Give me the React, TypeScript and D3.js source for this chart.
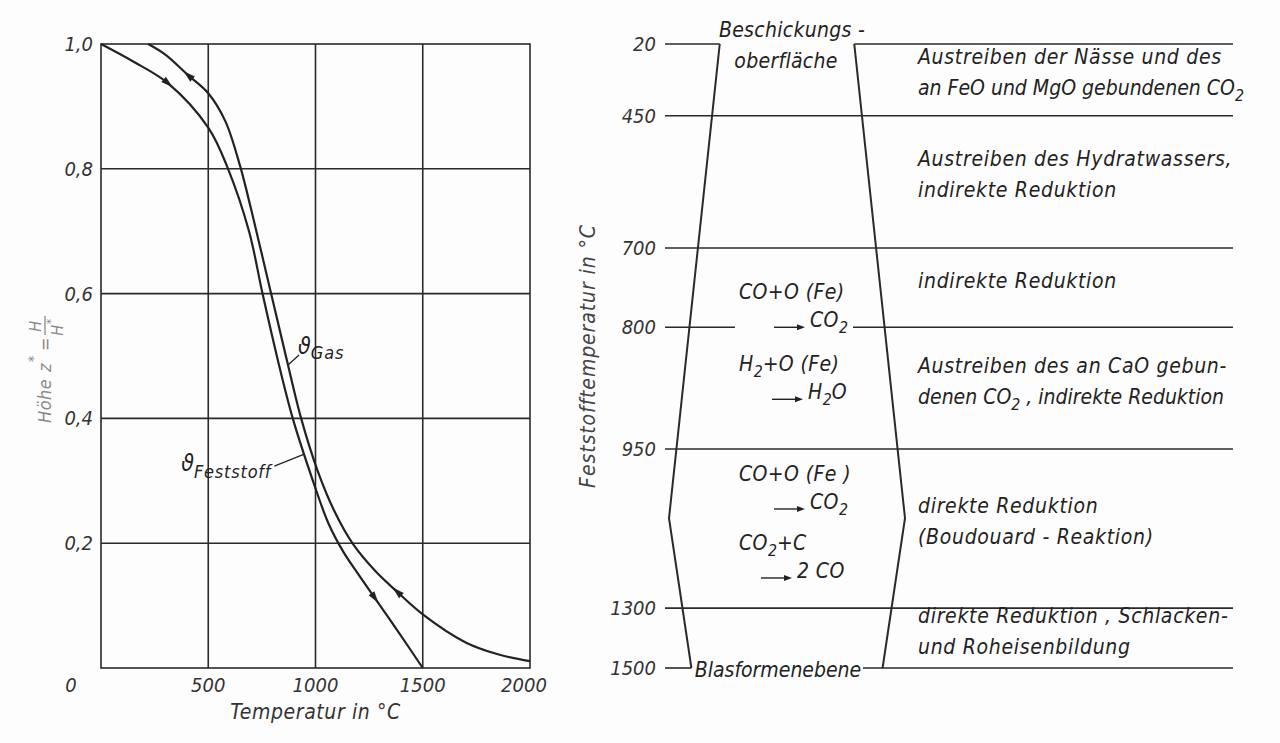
import React from "react";
import * as d3 from "d3";

const width = 1280;
const height = 743;

// left chart: height z* over temperature
const tempTicks = [500, 1000, 1500, 2000];
const heightTicks = [0.2, 0.4, 0.6, 0.8, 1.0];
const heightTickLabels = ["0,2", "0,4", "0,6", "0,8", "1,0"];

const solidT = [0, 150, 313, 500, 590, 690, 753, 824, 894, 990, 1060, 1130, 1200, 1277, 1390, 1500];
const solidZ = [1.0, 0.972, 0.937, 0.866, 0.802, 0.7, 0.6, 0.494, 0.4, 0.298, 0.232, 0.186, 0.15, 0.112, 0.056, 0.0];

const gasT = [220, 300, 406, 500, 580, 648, 700, 793, 866, 933, 1010, 1090, 1176, 1280, 1378, 1500, 1700, 1850, 2000];
const gasZ = [1.0, 0.983, 0.95, 0.921, 0.876, 0.805, 0.735, 0.6, 0.494, 0.4, 0.316, 0.25, 0.198, 0.155, 0.123, 0.086, 0.041, 0.022, 0.011];

const solidArrowT = [313, 1277];
const gasArrowT = [406, 1380];

// right chart: zones of the shaft
const levelLabels = ["20", "450", "700", "800", "950", "1300", "1500"];
const levelHeights = [1.0, 0.885, 0.673, 0.546, 0.351, 0.096, 0.0];

const shaftZ = [1.0, 0.24, 0.0];
const shaftR = [0.57, 1.0, 0.81];

const zoneTexts = [
  ["Austreiben der Nässe und des", "an FeO und MgO gebundenen CO_2"],
  ["Austreiben des Hydratwassers,", "indirekte Reduktion"],
  ["indirekte Reduktion"],
  ["Austreiben des an CaO gebun-", "denen CO_2 , indirekte Reduktion"],
  ["direkte Reduktion", "(Boudouard - Reaktion)"],
  ["direkte Reduktion , Schlacken-", "und Roheisenbildung"],
];

const educts = ["CO+O (Fe)", "H_2+O (Fe)", "CO+O (Fe )", "CO_2+C"];
const products = ["CO_2", "H_2O", "CO_2", "2 CO"];

const ink = "#222";
const font = "'DejaVu Sans Condensed', 'Liberation Sans Narrow', 'DejaVu Sans', sans-serif";

// "CO_2" -> CO with subscript 2
function chem(s: string, sub = 6) {
  const parts = s.split(/_(\d)/);
  const out: React.ReactNode[] = [];
  parts.forEach((p, i) => {
    if (i % 2 === 1) {
      out.push(<tspan key={i} fontSize="0.75em" dy={sub} letterSpacing={0}>{p}</tspan>);
    } else if (p) {
      out.push(<tspan key={i} dy={i > 0 ? -sub : 0}>{p}</tspan>);
    }
  });
  return out;
}

function Arrowhead({ x0, y0, angle }: { x0: number; y0: number; angle: number }) {
  const deg = (angle * 180) / Math.PI;
  return (
    <path
      d="M6,0 L-6,-3.5 L-6,3.5 Z"
      fill={ink}
      transform={`translate(${x0},${y0}) rotate(${deg})`}
    />
  );
}

export default function App() {
  const x = d3.scaleLinear().domain([0, 2000]).range([101, 530]);
  const y = d3.scaleLinear().domain([0, 1]).range([668, 44]);

  const solidAt = d3.scaleLinear().domain(solidT).range(solidZ);
  const gasAt = d3.scaleLinear().domain(gasT).range(gasZ);

  const curve = d3.curveCatmullRom.alpha(0.5);
  const solidLine = d3
    .line<number>()
    .x((t) => x(t))
    .y((_, i) => y(solidZ[i]))
    .curve(curve)(solidT);
  const gasLine = d3
    .line<number>()
    .x((t) => x(t))
    .y((_, i) => y(gasZ[i]))
    .curve(curve)(gasT);

  const arrow = (f: (t: number) => number, t: number, dir: number, key: string) => {
    const ax = x(t + 12) - x(t - 12);
    const ay = y(f(t + 12)) - y(f(t - 12));
    const a = Math.atan2(ay, ax) + (dir < 0 ? Math.PI : 0);
    return <Arrowhead key={key} x0={x(t)} y0={y(f(t))} angle={a} />;
  };

  // right chart geometry
  const lineStart = 665;
  const lineEnd = 1233;
  const shaftCx = 787;
  const r = d3.scaleLinear().domain([0, 1]).range([0, 118]);
  const leftWall = shaftZ.map((h, i) => [shaftCx - r(shaftR[i]), y(h)] as [number, number]);
  const rightWall = shaftZ.map((h, i) => [shaftCx + r(shaftR[i]), y(h)] as [number, number]);
  const wall = d3.line();

  const yl = (i: number) => y(levelHeights[i]);

  // gaps in level lines (text inside the shaft)
  const levelSegments = (i: number): [number, number][] => {
    if (i === 0) return [[lineStart, leftWall[0][0]], [rightWall[0][0], lineEnd]];
    if (i === 3) return [[lineStart, 735], [853, lineEnd]];
    if (i === 6) return [[lineStart, leftWall[2][0]], [863, lineEnd]];
    return [[lineStart, lineEnd]];
  };

  const pairCenters = [yl(3) - 14, yl(3) + 58, yl(4) + 46, yl(4) + 115];
  const productX = [810, 808, 810, 797];

  const gasAnchor: [number, number] = [x(872), y(gasAt(872))];
  const solidAnchor: [number, number] = [x(948), y(solidAt(948))];

  return (
    <svg
      width={width}
      height={height}
      style={{ position: "absolute", left: 0, top: 0, background: "#fdfdfd" }}
      fontFamily={font}
      fontStyle="italic"
    >
      {/* ---------- left chart ---------- */}
      <g stroke="#2a2a2a" strokeWidth={1.6} fill="none">
        <rect x={x(0)} y={y(1)} width={x(2000) - x(0)} height={y(0) - y(1)} />
        {tempTicks.slice(0, 3).map((t) => (
          <line key={t} x1={x(t)} x2={x(t)} y1={y(0)} y2={y(1)} />
        ))}
        {heightTicks.slice(0, 4).map((h) => (
          <line key={h} x1={x(0)} x2={x(2000)} y1={y(h)} y2={y(h)} />
        ))}
      </g>

      <path d={solidLine || ""} fill="none" stroke={ink} strokeWidth={2.2} />
      <path d={gasLine || ""} fill="none" stroke={ink} strokeWidth={2.2} />
      {solidArrowT.map((t, i) => arrow(solidAt, t, 1, "s" + i))}
      {gasArrowT.map((t, i) => arrow(gasAt, t, -1, "g" + i))}

      {/* curve labels */}
      <line
        x1={gasAnchor[0]}
        y1={gasAnchor[1]}
        x2={gasAnchor[0] + 11}
        y2={gasAnchor[1] - 10}
        stroke={ink}
        strokeWidth={1.3}
      />
      <text x={gasAnchor[0] + 10} y={gasAnchor[1] - 11} fontSize={23} fill={ink}>
        ϑ
        <tspan fontSize={18} dy={5} letterSpacing={0.8}>Gas</tspan>
      </text>
      <line
        x1={solidAnchor[0]}
        y1={solidAnchor[1]}
        x2={solidAnchor[0] - 30}
        y2={solidAnchor[1] + 12}
        stroke={ink}
        strokeWidth={1.3}
      />
      <text x={solidAnchor[0] - 33} y={solidAnchor[1] + 17} fontSize={23} fill={ink} textAnchor="end">
        ϑ
        <tspan fontSize={18} dy={7} letterSpacing={0.8}>Feststoff</tspan>
      </text>

      {/* axes text */}
      <g fill="#333" fontSize={20}>
        {heightTicks.map((h, i) => (
          <text key={h} x={93} y={y(h)} dy="0.35em" textAnchor="end">
            {heightTickLabels[i]}
          </text>
        ))}
        <text x={71} y={y(0) + 17} dy="0.35em" textAnchor="middle">0</text>
        {tempTicks.map((t) => (
          <text key={t} x={x(t) - (t === 2000 ? 6 : 0)} y={y(0) + 17} dy="0.35em" textAnchor="middle">
            {t}
          </text>
        ))}
        <text x={x(1000)} y={719} textAnchor="middle" fontSize={21} letterSpacing={0.6}>
          Temperatur in °C
        </text>
      </g>

      {/* left axis title: Höhe z* = H / H* */}
      <g transform="translate(51,423) rotate(-90)" fill="#8a8a8a" fontSize={18} letterSpacing={0.5}>
        <text x={0} y={0}>Höhe</text>
        <text x={51} y={0}>z</text>
        <text x={61} y={-13} fontSize={14}>*</text>
        <text x={72} y={0}>=</text>
        <text x={97} y={-10} fontSize={16} textAnchor="middle">H</text>
        <line x1={88} x2={107} y1={-6} y2={-6} stroke="#8a8a8a" strokeWidth={1.3} />
        <text x={96} y={12} fontSize={16} textAnchor="middle">
          H<tspan fontSize={12} dy={-8}>*</tspan>
        </text>
      </g>

      {/* ---------- right chart ---------- */}
      <g stroke="#2a2a2a" strokeWidth={1.6} fill="none">
        {levelHeights.map((_, i) =>
          levelSegments(i).map((s, k) => (
            <line key={i + "-" + k} x1={s[0]} x2={s[1]} y1={yl(i)} y2={yl(i)} />
          ))
        )}
        <path d={wall(leftWall) || ""} strokeWidth={2} />
        <path d={wall(rightWall) || ""} strokeWidth={2} />
      </g>

      <g fill="#333" fontSize={20}>
        {levelLabels.map((l, i) => (
          <text key={l} x={656} y={yl(i)} dy="0.35em" textAnchor="end">
            {l}
          </text>
        ))}
      </g>

      <text
        transform={`translate(595,${(y(1) + y(0)) / 2}) rotate(-90)`}
        textAnchor="middle"
        fontSize={21}
        letterSpacing={0.9}
        fill="#444"
      >
        Feststofftemperatur in °C
      </text>

      <g fill={ink} fontSize={21} letterSpacing={0.3}>
        <text x={shaftCx + 5} y={30} dy="0.35em" textAnchor="middle">Beschickungs -</text>
        <text x={shaftCx - 1} y={61} dy="0.35em" textAnchor="middle">oberfläche</text>
        <text x={778} y={yl(6) + 2} dy="0.35em" textAnchor="middle" letterSpacing={0}>
          Blasformenebene
        </text>
      </g>

      {/* zone descriptions */}
      <g fill={ink} fontSize={21} letterSpacing={0.7}>
        {zoneTexts.map((lines, i) => {
          const c = (yl(i) + yl(i + 1)) / 2;
          return lines.map((s, k) => (
            <text
              key={i + "-" + k}
              x={918}
              y={c + (k - (lines.length - 1) / 2) * 31}
              dy="0.35em"
              letterSpacing={s.includes("_") ? 0 : undefined}
            >
              {chem(s)}
            </text>
          ));
        })}
      </g>

      {/* reactions in the shaft */}
      <g fill={ink} fontSize={21} letterSpacing={0.4}>
        {educts.map((s, i) => (
          <text key={"e" + i} x={739} y={pairCenters[i] - 14} dy="0.35em">
            {chem(s)}
          </text>
        ))}
        {products.map((s, i) => {
          const py = pairCenters[i] + 14;
          const px = productX[i];
          return (
            <g key={"p" + i}>
              <line x1={px - 36} x2={px - 12} y1={py} y2={py} stroke={ink} strokeWidth={1.4} />
              <path d={`M${px - 5},${py} L${px - 13},${py - 3} L${px - 13},${py + 3} Z`} fill={ink} />
              <text x={px} y={py} dy="0.35em">
                {chem(s)}
              </text>
            </g>
          );
        })}
      </g>
    </svg>
  );
}
